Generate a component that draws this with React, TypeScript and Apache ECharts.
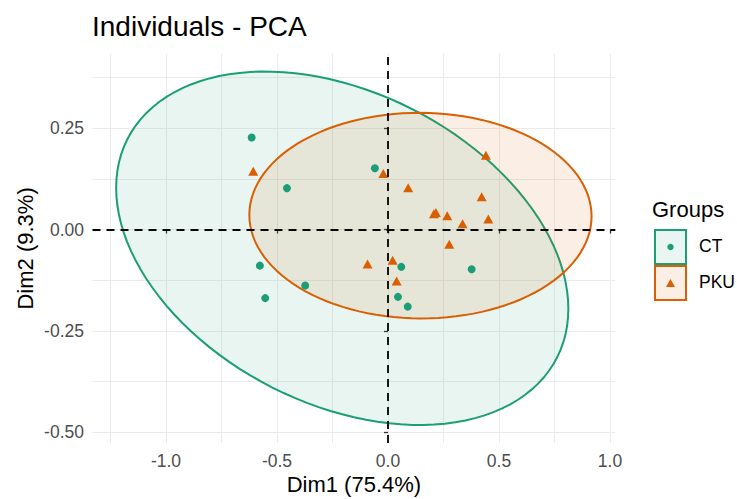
import React, { useEffect, useRef } from "react";
import * as echarts from "echarts";

// ---- data ----
const GROUPS = ["CT", "PKU"];
const CT_X = [-0.614, -0.455, -0.059, -0.577, -0.553, -0.373, 0.06, 0.045, 0.089, 0.377];
const CT_Y = [0.227, 0.102, 0.151, -0.089, -0.169, -0.138, -0.092, -0.166, -0.19, -0.098];
const PKU_X = [-0.607, -0.021, 0.091, -0.092, 0.021, 0.039, 0.441, 0.422, 0.216, 0.207, 0.267, 0.452, 0.336, 0.276];
const PKU_Y = [0.144, 0.138, 0.103, -0.085, -0.076, -0.127, 0.183, 0.081, 0.042, 0.039, 0.034, 0.026, 0.014, -0.036];
const X_TICKS = [-1, -0.5, 0, 0.5, 1];
const X_GRID = [-1.25, -1, -0.75, -0.5, -0.25, 0, 0.25, 0.5, 0.75, 1];
const Y_TICKS = [-0.5, -0.25, 0, 0.25];
const Y_GRID = [-0.5, -0.375, -0.25, -0.125, 0, 0.125, 0.25, 0.375];
const X_LIMITS = [-1.331, 1.024];
const Y_LIMITS = [-0.526, 0.433];
const ELLIPSE_LEVEL = 0.95;

const COLORS = ["#1B9E77", "#D95F02"];
const FILLS = ["rgba(27,158,119,0.1)", "rgba(217,95,2,0.1)"];
const FONT = "'Liberation Sans', Arial, Helvetica, sans-serif";

// stat_ellipse(type = "norm") equivalent
function ellipse(xs: number[], ys: number[], level: number, segments = 120): number[][] {
  const n = xs.length;
  const mx = xs.reduce((a, b) => a + b, 0) / n;
  const my = ys.reduce((a, b) => a + b, 0) / n;
  let sxx = 0, syy = 0, sxy = 0;
  for (let i = 0; i < n; i++) {
    sxx += (xs[i] - mx) ** 2;
    syy += (ys[i] - my) ** 2;
    sxy += (xs[i] - mx) * (ys[i] - my);
  }
  sxx /= n - 1; syy /= n - 1; sxy /= n - 1;
  const d2 = n - 1;
  const q = (d2 / 2) * (Math.pow(1 - level, -2 / d2) - 1); // F(2, n-1) quantile
  const r = Math.sqrt(2 * q);
  const a = Math.sqrt(sxx);
  const b = sxy / a;
  const c = Math.sqrt(syy - b * b);
  const pts: number[][] = [];
  for (let k = 0; k < segments; k++) {
    const t = (2 * Math.PI * k) / segments;
    const u = Math.cos(t), v = Math.sin(t);
    pts.push([mx + r * a * u, my + r * (b * u + c * v)]);
  }
  return pts;
}

export default function App() {
  const ref = useRef<HTMLDivElement>(null);
  useEffect(() => {
    if (!ref.current) return;
    const chart = echarts.init(ref.current, null, { renderer: "svg" });
    const ellipses = [ellipse(CT_X, CT_Y, ELLIPSE_LEVEL), ellipse(PKU_X, PKU_Y, ELLIPSE_LEVEL)];
    const ctData = CT_X.map((x, i) => [x, CT_Y[i]]);
    const pkuData = PKU_X.map((x, i) => [x, PKU_Y[i]]);

    const tickLabel = { color: "#4d4d4d", fontSize: 17.5, fontFamily: FONT };
    const nameStyle = { color: "#000", fontSize: 22, fontFamily: FONT };

    const option: any = {
      animation: false,
      backgroundColor: "#ffffff",
      title: {
        text: "Individuals - PCA",
        left: 92,
        top: 12,
        padding: 0,
        textStyle: { fontFamily: FONT, fontSize: 28, fontWeight: "normal", color: "#000" },
      },
      grid: { left: 92.5, right: 121.7, top: 53.9, bottom: 56.1, containLabel: false, outerBoundsMode: "none" },
      xAxis: [
        {
          type: "value",
          min: X_LIMITS[0],
          max: X_LIMITS[1],
          position: "bottom",
          axisLine: { show: false },
          axisTick: { show: false, customValues: X_GRID },
          axisLabel: {
            ...tickLabel,
            customValues: X_TICKS,
            margin: 9,
            formatter: (v: number) => v.toFixed(1),
          },
          splitLine: { show: true, lineStyle: { color: "#ebebeb", width: 1 } },
          name: "Dim1 (75.4%)",
          nameLocation: "middle",
          nameGap: 31,
          nameMoveOverlap: false,
          nameTextStyle: nameStyle,
        },
        {
          type: "value",
          min: X_LIMITS[0],
          max: X_LIMITS[1],
          position: "bottom",
          axisLine: { show: false },
          axisTick: { show: true, customValues: X_TICKS, length: 4, lineStyle: { color: "#333", width: 1.3 } },
          axisLabel: { show: false },
          splitLine: { show: false },
        },
      ],
      yAxis: [
        {
          type: "value",
          min: Y_LIMITS[0],
          max: Y_LIMITS[1],
          position: "left",
          axisLine: { show: false },
          axisTick: { show: false, customValues: Y_GRID },
          axisLabel: {
            ...tickLabel,
            customValues: Y_TICKS,
            margin: 8.5,
            formatter: (v: number) => v.toFixed(2),
          },
          splitLine: { show: true, lineStyle: { color: "#ebebeb", width: 1 } },
          name: "Dim2 (9.3%)",
          nameLocation: "middle",
          nameRotate: 90,
          nameGap: 56,
          nameMoveOverlap: false,
          nameTextStyle: nameStyle,
        },
        {
          type: "value",
          min: Y_LIMITS[0],
          max: Y_LIMITS[1],
          position: "left",
          axisLine: { show: false },
          axisTick: { show: true, customValues: Y_TICKS, length: 4, lineStyle: { color: "#333", width: 1.3 } },
          axisLabel: { show: false },
          splitLine: { show: false },
        },
      ],
      series: [
        {
          type: "custom",
          coordinateSystem: "cartesian2d",
          silent: true,
          clip: false,
          z: 1,
          data: GROUPS.map((g, i) => [ellipses[i][0][0], ellipses[i][0][1], i]),
          encode: { x: 0, y: 1 },
          renderItem: (params: any, api: any) => {
            const idx = api.value(2);
            const pts = ellipses[idx].map((p) => api.coord(p));
            return {
              type: "polygon",
              shape: { points: pts },
              style: { fill: FILLS[idx], stroke: COLORS[idx], lineWidth: 2 },
            };
          },
        },
        {
          name: GROUPS[0],
          type: "scatter",
          data: ctData,
          symbol: "circle",
          symbolSize: 8,
          itemStyle: { color: COLORS[0], opacity: 1 },
          z: 3,
          silent: true,
          markLine: {
            silent: true,
            symbol: ["none", "none"],
            label: { show: false },
            lineStyle: { color: "#000", width: 1.8, type: [8, 6] },
            data: [{ xAxis: 0 }, { yAxis: 0 }],
          },
        },
        {
          name: GROUPS[1],
          type: "scatter",
          data: pkuData,
          symbol: "triangle",
          symbolSize: [10, 9],
          itemStyle: { color: COLORS[1], opacity: 1 },
          z: 3,
          silent: true,
        },
      ],
      graphic: [
        {
          type: "text",
          left: 652,
          top: 198,
          style: { text: "Groups", font: `22px ${FONT}`, fill: "#000" },
        },
        {
          type: "rect",
          shape: { x: 655, y: 230, width: 31, height: 34 },
          style: { fill: FILLS[0], stroke: COLORS[0], lineWidth: 2 },
        },
        {
          type: "circle",
          shape: { cx: 670.5, cy: 247, r: 3.2 },
          style: { fill: COLORS[0] },
        },
        {
          type: "rect",
          shape: { x: 655, y: 266, width: 31, height: 34 },
          style: { fill: FILLS[1], stroke: COLORS[1], lineWidth: 2 },
        },
        {
          type: "polygon",
          shape: { points: [[670.5, 279], [675, 287], [666, 287]] },
          style: { fill: COLORS[1] },
        },
        {
          type: "text",
          left: 699,
          top: 237,
          style: { text: GROUPS[0], font: `17.5px ${FONT}`, fill: "#000" },
        },
        {
          type: "text",
          left: 699,
          top: 273,
          style: { text: GROUPS[1], font: `17.5px ${FONT}`, fill: "#000" },
        },
      ],
    };
    chart.setOption(option);
    return () => chart.dispose();
  }, []);
  return (
    <div
      ref={ref}
      style={{ position: "fixed", left: 0, top: 0, width: 737, height: 499, background: "#fff" }}
    />
  );
}
